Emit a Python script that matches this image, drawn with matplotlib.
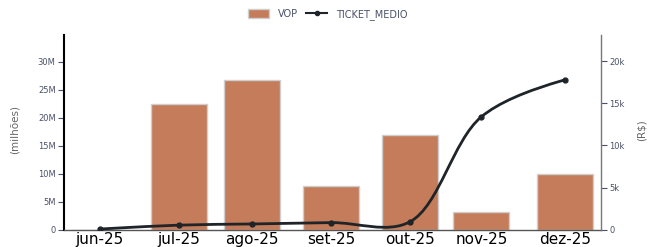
import numpy as np
import pandas as pd
import matplotlib
matplotlib.use("Agg")
import matplotlib.pyplot as plt
import matplotlib.dates as mdates
from matplotlib.path import Path
from matplotlib.patches import PathPatch, Patch
from matplotlib.lines import Line2D
from matplotlib.ticker import FuncFormatter

# data
months = ["jun-25", "jul-25", "ago-25", "set-25", "out-25", "nov-25", "dez-25"]
dates = ["2025-06-15", "2025-07-16", "2025-08-14", "2025-09-14",
         "2025-10-15", "2025-11-12", "2025-12-15"]
vop = [0, 22.5e6, 26.7e6, 7.75e6, 16.9e6, 3.2e6, 9.95e6]
ticket = [80, 540, 680, 840, 950, 13400, 17800]

x = mdates.date2num(pd.to_datetime(dates))

bar_color = "#c47c5a"
line_color = "#1e2428"
tick_color = "#4a5268"

fig = plt.figure(figsize=(6.49, 2.47), dpi=100)
ax = fig.add_axes([64 / 649, 17.3 / 247, 537 / 649, 194.7 / 247])
ax2 = ax.twinx()

ax.bar(x, vop, width=22, color=bar_color, edgecolor="#cfcfcf", linewidth=1.0, zorder=2)

xmin = mdates.date2num(pd.Timestamp("2025-06-01"))
xmax = mdates.date2num(pd.Timestamp("2025-12-29"))
ax.set_xlim(xmin, xmax)
ax.set_ylim(0, 34.8e6)
ax2.set_ylim(0, 23.1e3)

ax.set_xticks(x)
ax.set_xticklabels(months, fontsize=11, color="black")
ax.tick_params(axis="x", length=0, pad=2)

ax.set_yticks(np.arange(0, 31e6, 5e6))
ax.yaxis.set_major_formatter(FuncFormatter(lambda v, p: "0" if v == 0 else f"{v/1e6:.0f}M"))
ax.tick_params(axis="y", labelsize=6, colors=tick_color, length=4, width=0.8, pad=2)
ax2.set_yticks(np.arange(0, 20001, 5000))
ax2.yaxis.set_major_formatter(FuncFormatter(lambda v, p: "0" if v == 0 else f"{v/1e3:.0f}k"))
ax2.tick_params(axis="y", labelsize=6, colors=tick_color, length=4, width=0.8, pad=2)

for a in (ax, ax2):
    a.spines["top"].set_visible(False)
ax.spines["right"].set_visible(False)
ax2.spines["left"].set_visible(False)
ax2.spines["bottom"].set_visible(False)
ax.spines["left"].set_color("black")
ax.spines["left"].set_linewidth(1.5)
ax.spines["bottom"].set_color("#555555")
ax.spines["bottom"].set_linewidth(1.0)
ax2.spines["right"].set_color("#777777")
ax2.spines["right"].set_linewidth(1.0)

label_font = ["Liberation Sans Narrow", "DejaVu Sans"]
fig.text(15 / 649, 1 - 130 / 247, "(milhões)", fontsize=7.5, color="#666666",
         family=label_font, rotation=90, ha="center", va="center")
fig.text(642 / 649, 1 - 130 / 247, "(R$)", fontsize=7.5, color="#666666",
         family=label_font, rotation=90, ha="center", va="center")

# smoothed line (centripetal spline, computed in pixel space)
pts = ax2.transData.transform(np.column_stack([x, ticket]))
tangents = []
for i in range(1, len(pts) - 1):
    d1 = pts[i - 1] - pts[i]
    d2 = pts[i + 1] - pts[i]
    d1a = np.hypot(*d1) ** 0.5
    d2a = np.hypot(*d2) ** 0.5
    num = d2a * d2a * d1 - d1a * d1a * d2
    tangents.append((pts[i] + num / (3 * d2a * (d1a + d2a)),
                     pts[i] - num / (3 * d1a * (d1a + d2a))))
verts = [pts[0], tangents[0][0], pts[1]]
codes = [Path.MOVETO, Path.CURVE3, Path.CURVE3]
for i in range(2, len(pts) - 1):
    verts += [tangents[i - 2][1], tangents[i - 1][0], pts[i]]
    codes += [Path.CURVE4] * 3
verts += [tangents[-1][1], pts[-1]]
codes += [Path.CURVE3] * 2
verts = ax2.transData.inverted().transform(np.array(verts))
ax2.add_patch(PathPatch(Path(verts, codes), fill=False, edgecolor=line_color,
                        linewidth=2, zorder=3, clip_on=False))
ax2.plot(x, ticket, "o", color=line_color, markersize=3.5, zorder=4)

handles = [Patch(facecolor=bar_color, edgecolor="#cfcfcf", label="VOP"),
           Line2D([], [], color=line_color, marker="o", markersize=3, linewidth=1.5,
                  label="TICKET_MEDIO")]
fig.legend(handles=handles, loc="center", bbox_to_anchor=(0.505, 0.943), ncol=2,
           frameon=False, fontsize=7, labelcolor=tick_color, handlelength=2.2,
           handleheight=1.0, columnspacing=0.8, handletextpad=0.9)

fig.savefig("out.png", dpi=100)
